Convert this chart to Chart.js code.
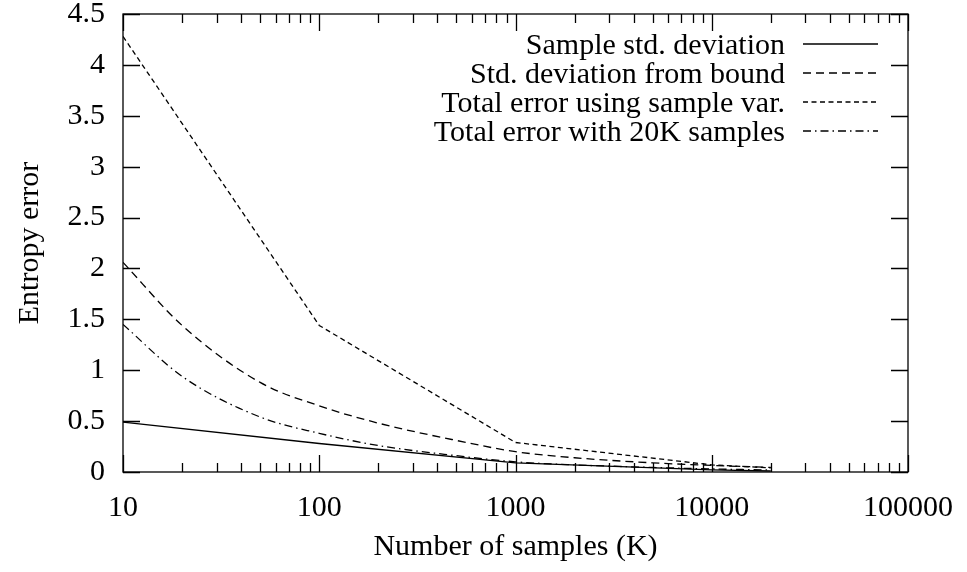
<!DOCTYPE html>
<html>
<head>
<meta charset="utf-8">
<script src="https://cdn.jsdelivr.net/npm/chart.js@4"></script>
<style>
  html, body { margin: 0; padding: 0; background: #fff; }
  #wrap { width: 967px; height: 572px; }
</style>
</head>
<body>
<div id="wrap"><canvas id="errChart" width="967" height="572"></canvas></div>
<script>
// samples in K
const samplesSparse = [10, 100, 1000, 10000, 20000];
const samplesDense = [10, 20, 50, 100, 200, 500, 1000, 2000, 5000, 10000, 20000];

const sampleStd = [0.49, 0.28, 0.09, 0.02, 0.01];
const boundStd = [2.06, 1.44, 0.88, 0.65, 0.48, 0.31, 0.2, 0.14, 0.09, 0.065, 0.045];
const totalSampleVar = [4.28, 1.44, 0.29, 0.07, 0.04];
const total20K = [1.45, 0.94, 0.54, 0.38, 0.26, 0.16, 0.1, 0.07, 0.045, 0.03, 0.02];

const seriesNames = ['Sample std. deviation', 'Std. deviation from bound',
  'Total error using sample var.', 'Total error with 20K samples'];

const xDecades = [10, 100, 1000, 10000, 100000];
const yTicks = [0, 0.5, 1, 1.5, 2, 2.5, 3, 3.5, 4, 4.5];

const FONT = '"Liberation Serif", "DejaVu Serif", serif';
const FSIZE = 30;

const pts = (xs, ys) => xs.map((x, i) => ({ x: x, y: ys[i] }));

// gnuplot style frame with inward ticks + legend on the right
const frame = {
  id: 'frame',
  afterDraw(chart) {
    const ctx = chart.ctx;
    const a = chart.chartArea;
    const xs = chart.scales.x, ys = chart.scales.y;
    ctx.save();
    ctx.strokeStyle = '#000';
    ctx.lineWidth = 1.3;
    ctx.strokeRect(a.left, a.top, a.right - a.left, a.bottom - a.top);
    ctx.beginPath();
    yTicks.forEach(v => {
      const py = Math.round(ys.getPixelForValue(v)) + 0.5;
      ctx.moveTo(a.left, py); ctx.lineTo(a.left + 17, py);
      ctx.moveTo(a.right, py); ctx.lineTo(a.right - 17, py);
    });
    for (let d = 10; d <= 100000; d *= 10) {
      const px = Math.round(xs.getPixelForValue(d)) + 0.5;
      ctx.moveTo(px, a.bottom); ctx.lineTo(px, a.bottom - 17);
      ctx.moveTo(px, a.top); ctx.lineTo(px, a.top + 17);
      if (d < 100000) {
        for (let k = 2; k < 10; k++) {
          const mx = Math.round(xs.getPixelForValue(d * k)) + 0.5;
          ctx.moveTo(mx, a.bottom); ctx.lineTo(mx, a.bottom - 9);
          ctx.moveTo(mx, a.top); ctx.lineTo(mx, a.top + 9);
        }
      }
    }
    ctx.stroke();

    // legend
    ctx.font = FSIZE + 'px ' + FONT;
    ctx.fillStyle = '#000';
    ctx.textAlign = 'right';
    ctx.textBaseline = 'middle';
    chart.data.datasets.forEach((ds, i) => {
      const y = 44 + i * 29;
      ctx.fillText(ds.label, 785, y + 2);
      ctx.beginPath();
      ctx.setLineDash(ds.borderDash || []);
      ctx.lineWidth = ds.borderWidth;
      ctx.moveTo(803, y); ctx.lineTo(878, y);
      ctx.stroke();
    });
    ctx.restore();
  }
};

new Chart(document.getElementById('errChart'), {
  type: 'line',
  data: {
    datasets: [{
      label: seriesNames[0],
      data: pts(samplesSparse, sampleStd),
      borderColor: '#000',
      borderWidth: 1.3,
      borderDash: []
    }, {
      label: seriesNames[1],
      data: pts(samplesDense, boundStd),
      borderColor: '#000',
      borderWidth: 1.3,
      borderDash: [8, 5],
      cubicInterpolationMode: 'monotone'
    }, {
      label: seriesNames[2],
      data: pts(samplesSparse, totalSampleVar),
      borderColor: '#000',
      borderWidth: 1.3,
      borderDash: [5, 3.5]
    }, {
      label: seriesNames[3],
      data: pts(samplesDense, total20K),
      borderColor: '#000',
      borderWidth: 1.3,
      borderDash: [8, 4, 1.5, 4],
      cubicInterpolationMode: 'monotone'
    }]
  },
  options: {
    responsive: false,
    animation: false,
    layout: { padding: { top: 14, right: 59, left: 0, bottom: 0 } },
    elements: { point: { radius: 0 }, line: { tension: 0 } },
    plugins: { legend: { display: false }, tooltip: { enabled: false } },
    scales: {
      x: {
        type: 'logarithmic',
        min: 10,
        max: 100000,
        grid: { display: false, drawTicks: false },
        border: { display: false },
        afterBuildTicks: s => { s.ticks = xDecades.map(v => ({ value: v })); },
        afterFit: s => { s.height = 100; s.paddingLeft = 0; s.paddingRight = 0; },
        ticks: {
          autoSkip: false,
          maxRotation: 0,
          padding: 18,
          color: '#000',
          font: { family: FONT, size: FSIZE },
          callback: v => String(v)
        },
        title: {
          display: true,
          text: 'Number of samples (K)',
          color: '#000',
          font: { family: FONT, size: FSIZE },
          padding: { top: 0, bottom: 7 }
        }
      },
      y: {
        min: 0,
        max: 4.5,
        grid: { display: false, drawTicks: false },
        border: { display: false },
        afterBuildTicks: s => { s.ticks = yTicks.map(v => ({ value: v })); },
        afterFit: s => { s.width = 123; s.paddingTop = 0; s.paddingBottom = 0; },
        ticks: {
          padding: 18,
          color: '#000',
          font: { family: FONT, size: FSIZE },
          callback: v => String(v)
        },
        title: {
          display: true,
          text: 'Entropy error',
          color: '#000',
          font: { family: FONT, size: FSIZE },
          padding: { top: 12, bottom: 0 }
        }
      }
    }
  },
  plugins: [frame]
});
</script>
</body>
</html>
